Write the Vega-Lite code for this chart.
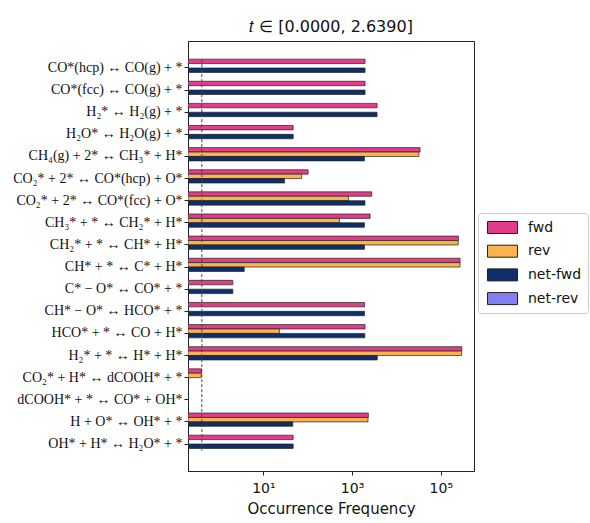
{
  "$schema": "https://vega.github.io/schema/vega-lite/v6.json",
  "width": 286,
  "height": 430,
  "autosize": {"type": "none"},
  "padding": {"left": 188, "top": 41, "right": 116, "bottom": 52},
  "title": {"text": "𝑡 ∈ [0.0000, 2.6390]", "font": "DejaVu Sans", "fontSize": 16, "fontWeight": "normal", "color": "#111", "offset": 6},
  "config": {
    "font": "DejaVu Sans",
    "view": {"stroke": "#222", "strokeWidth": 1},
    "axis": {"grid": false, "domainColor": "#222", "tickColor": "#222", "labelColor": "#111", "titleColor": "#111"}
  },
  "layer": [
    {
      "data": {
        "values": [
          {"reaction": "CO*(hcp) ↔ CO(g) + *", "kind": "fwd", "value": 1960},
          {"reaction": "CO*(hcp) ↔ CO(g) + *", "kind": "net-fwd", "value": 1960},
          {"reaction": "CO*(fcc) ↔ CO(g) + *", "kind": "fwd", "value": 1960},
          {"reaction": "CO*(fcc) ↔ CO(g) + *", "kind": "net-fwd", "value": 1960},
          {"reaction": "H₂* ↔ H₂(g) + *", "kind": "fwd", "value": 3660},
          {"reaction": "H₂* ↔ H₂(g) + *", "kind": "net-fwd", "value": 3660},
          {"reaction": "H₂O* ↔ H₂O(g) + *", "kind": "fwd", "value": 47},
          {"reaction": "H₂O* ↔ H₂O(g) + *", "kind": "net-fwd", "value": 47},
          {"reaction": "CH₄(g) + 2* ↔ CH₃* + H*", "kind": "fwd", "value": 34100},
          {"reaction": "CH₄(g) + 2* ↔ CH₃* + H*", "kind": "rev", "value": 32000},
          {"reaction": "CH₄(g) + 2* ↔ CH₃* + H*", "kind": "net-fwd", "value": 1900},
          {"reaction": "CO₂* + 2* ↔ CO*(hcp) + O*", "kind": "fwd", "value": 102},
          {"reaction": "CO₂* + 2* ↔ CO*(hcp) + O*", "kind": "rev", "value": 73},
          {"reaction": "CO₂* + 2* ↔ CO*(hcp) + O*", "kind": "net-fwd", "value": 30},
          {"reaction": "CO₂* + 2* ↔ CO*(fcc) + O*", "kind": "fwd", "value": 2780},
          {"reaction": "CO₂* + 2* ↔ CO*(fcc) + O*", "kind": "rev", "value": 830},
          {"reaction": "CO₂* + 2* ↔ CO*(fcc) + O*", "kind": "net-fwd", "value": 1950},
          {"reaction": "CH₃* + * ↔ CH₂* + H*", "kind": "fwd", "value": 2550},
          {"reaction": "CH₃* + * ↔ CH₂* + H*", "kind": "rev", "value": 520},
          {"reaction": "CH₃* + * ↔ CH₂* + H*", "kind": "net-fwd", "value": 1900},
          {"reaction": "CH₂* + * ↔ CH* + H*", "kind": "fwd", "value": 249000},
          {"reaction": "CH₂* + * ↔ CH* + H*", "kind": "rev", "value": 247000},
          {"reaction": "CH₂* + * ↔ CH* + H*", "kind": "net-fwd", "value": 1900},
          {"reaction": "CH* + * ↔ C* + H*", "kind": "fwd", "value": 272000},
          {"reaction": "CH* + * ↔ C* + H*", "kind": "rev", "value": 271996},
          {"reaction": "CH* + * ↔ C* + H*", "kind": "net-fwd", "value": 3.7},
          {"reaction": "C* − O* ↔ CO* + *", "kind": "fwd", "value": 2.05},
          {"reaction": "C* − O* ↔ CO* + *", "kind": "net-fwd", "value": 2.05},
          {"reaction": "CH* − O* ↔ HCO* + *", "kind": "fwd", "value": 1900},
          {"reaction": "CH* − O* ↔ HCO* + *", "kind": "net-fwd", "value": 1900},
          {"reaction": "HCO* + * ↔ CO + H*", "kind": "fwd", "value": 1960},
          {"reaction": "HCO* + * ↔ CO + H*", "kind": "rev", "value": 23},
          {"reaction": "HCO* + * ↔ CO + H*", "kind": "net-fwd", "value": 1935},
          {"reaction": "H₂* + * ↔ H* + H*", "kind": "fwd", "value": 298000},
          {"reaction": "H₂* + * ↔ H* + H*", "kind": "rev", "value": 294000},
          {"reaction": "H₂* + * ↔ H* + H*", "kind": "net-fwd", "value": 3700},
          {"reaction": "CO₂* + H* ↔ dCOOH* + *", "kind": "fwd", "value": 0.4},
          {"reaction": "CO₂* + H* ↔ dCOOH* + *", "kind": "rev", "value": 0.4},
          {"reaction": "H + O* ↔ OH* + *", "kind": "fwd", "value": 2330},
          {"reaction": "H + O* ↔ OH* + *", "kind": "rev", "value": 2284},
          {"reaction": "H + O* ↔ OH* + *", "kind": "net-fwd", "value": 46},
          {"reaction": "OH* + H* ↔ H₂O* + *", "kind": "fwd", "value": 47},
          {"reaction": "OH* + H* ↔ H₂O* + *", "kind": "net-fwd", "value": 47}
        ]
      },
      "mark": {"type": "bar", "stroke": "#222", "strokeWidth": 0.7, "clip": true},
      "encoding": {
        "y": {
          "field": "reaction", "type": "nominal", "title": null,
          "scale": {
            "domain": ["CO*(hcp) ↔ CO(g) + *", "CO*(fcc) ↔ CO(g) + *", "H₂* ↔ H₂(g) + *", "H₂O* ↔ H₂O(g) + *", "CH₄(g) + 2* ↔ CH₃* + H*", "CO₂* + 2* ↔ CO*(hcp) + O*", "CO₂* + 2* ↔ CO*(fcc) + O*", "CH₃* + * ↔ CH₂* + H*", "CH₂* + * ↔ CH* + H*", "CH* + * ↔ C* + H*", "C* − O* ↔ CO* + *", "CH* − O* ↔ HCO* + *", "HCO* + * ↔ CO + H*", "H₂* + * ↔ H* + H*", "CO₂* + H* ↔ dCOOH* + *", "dCOOH* + * ↔ CO* + OH*", "H + O* ↔ OH* + *", "OH* + H* ↔ H₂O* + *"],
            "paddingInner": 0, "paddingOuter": 0.72
          },
          "axis": {"labelFont": "Liberation Serif", "labelFontSize": 14, "tickSize": 4, "labelPadding": 2, "labelLimit": 300}
        },
        "yOffset": {
          "field": "kind", "type": "nominal",
          "scale": {"domain": ["fwd", "rev", "net-fwd", "net-rev"], "paddingInner": 0, "paddingOuter": 0.5}
        },
        "x": {
          "field": "value", "type": "quantitative", "title": "Occurrence Frequency",
          "scale": {"type": "log", "domain": [0.2, 560000], "nice": false},
          "axis": {"values": [10, 1000, 100000], "labelExpr": "datum.value == 10 ? '10¹' : datum.value == 1000 ? '10³' : '10⁵'", "labelFontSize": 14, "titleFontSize": 15, "titleFontWeight": "normal", "tickSize": 4, "labelPadding": 6, "titlePadding": 6}
        },
        "x2": {"datum": 0.2},
        "color": {
          "field": "kind", "type": "nominal",
          "scale": {"domain": ["fwd", "rev", "net-fwd", "net-rev"], "range": ["#e23d8a", "#fbb34f", "#0f2f6a", "#8080f2"]},
          "legend": {
            "title": null, "orient": "none", "legendX": 290, "legendY": 172,
            "padding": 6, "strokeColor": "#ccc", "fillColor": "white", "cornerRadius": 3,
            "labelFontSize": 14, "labelColor": "#111", "symbolType": "M-1.875,-0.75h3.75v1.5h-3.75z", "symbolSize": 256,
            "symbolStrokeColor": "#222", "symbolStrokeWidth": 1, "symbolOpacity": 1, "symbolOffset": 10, "rowPadding": 6.7, "labelOffset": 17
          }
        }
      }
    },
    {
      "data": {"values": [{"threshold": 0.41}]},
      "mark": {"type": "rule", "strokeDash": [3, 2], "color": "#444", "strokeWidth": 1},
      "encoding": {
        "x": {"field": "threshold", "type": "quantitative"},
        "y": {"datum": "CO*(hcp) ↔ CO(g) + *", "type": "nominal", "bandPosition": 0.1},
        "y2": {"datum": "OH* + H* ↔ H₂O* + *", "bandPosition": 0.8}
      }
    }
  ]
}
